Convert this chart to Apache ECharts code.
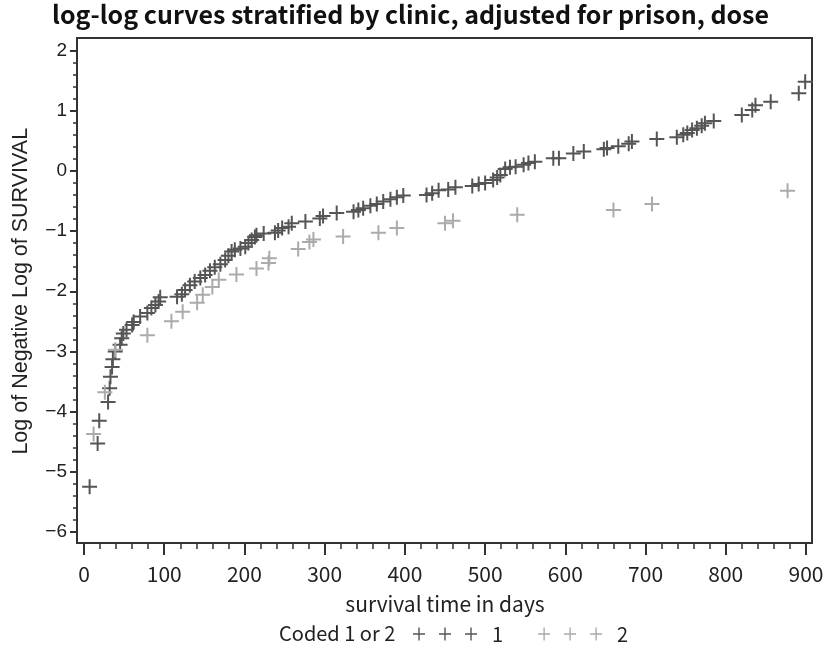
<!DOCTYPE html>
<html>
<head>
<meta charset="utf-8">
<script src="https://cdn.jsdelivr.net/npm/echarts@6/dist/echarts.min.js"></script>
<style>html,body{margin:0;padding:0;background:#fff;}#c{width:837px;height:646px;}</style>
</head>
<body>
<div id="c"></div>
<script>
// Clinic 1 (dark): event times (days) and log(-log(survival))
const clinic1Days = [7,17,19,30,32,33,35,36,39,45,47,49,53,60,62,70,79,84,89,93,95,116,122,126,132,138,145,151,157,163,170,176,180,184,188,195,201,205,209,213,215,224,238,242,247,255,259,276,294,298,315,336,342,348,357,365,373,382,390,398,427,434,442,454,463,484,492,500,510,515,519,525,531,538,548,554,562,585,592,610,623,648,652,666,679,683,714,739,747,752,758,764,770,774,785,820,833,837,856,891,899];
const clinic1LogLog = [-5.25,-4.53,-4.15,-3.84,-3.61,-3.42,-3.26,-3.13,-3.00,-2.89,-2.78,-2.70,-2.64,-2.56,-2.51,-2.42,-2.36,-2.28,-2.23,-2.17,-2.10,-2.09,-2.05,-1.98,-1.90,-1.84,-1.78,-1.73,-1.66,-1.60,-1.55,-1.48,-1.41,-1.34,-1.31,-1.29,-1.26,-1.20,-1.15,-1.10,-1.07,-1.04,-1.03,-0.99,-0.95,-0.93,-0.87,-0.84,-0.79,-0.75,-0.70,-0.68,-0.65,-0.62,-0.58,-0.55,-0.51,-0.47,-0.44,-0.41,-0.40,-0.37,-0.32,-0.31,-0.27,-0.25,-0.22,-0.20,-0.15,-0.11,-0.07,0.03,0.06,0.07,0.10,0.13,0.15,0.21,0.21,0.29,0.32,0.36,0.38,0.41,0.45,0.49,0.53,0.56,0.60,0.63,0.68,0.71,0.75,0.79,0.83,0.93,1.01,1.09,1.15,1.29,1.48];
// Clinic 2 (light)
const clinic2Days = [12,26,39,79,109,123,141,148,160,168,190,215,230,231,267,281,286,323,367,390,450,460,540,660,708,877];
const clinic2LogLog = [-4.37,-3.68,-2.97,-2.73,-2.50,-2.34,-2.19,-2.06,-1.93,-1.81,-1.72,-1.62,-1.53,-1.45,-1.30,-1.18,-1.14,-1.09,-1.03,-0.95,-0.87,-0.83,-0.73,-0.65,-0.55,-0.33];
const seriesNames = ['1', '2'];
const xRange = [0, 900];
const yRange = [-6, 2];

const titleText = 'log-log curves stratified by clinic, adjusted for prison, dose';
const xTitle = 'survival time in days';
const yTitle = 'Log of Negative Log of SURVIVAL';
const legendTitle = 'Coded 1 or 2';

const gothic = '"Noto Sans CJK JP", "Noto Sans", sans-serif';
const arial = '"Liberation Sans", Arial, sans-serif';
const darkCol = '#555555';
const lightCol = '#ababab';
const plusPath = 'path://M6.5,0H8.5V6.5H15V8.5H8.5V15H6.5V8.5H0V6.5H6.5Z';
function crossAt(cx) {
  const a = cx - 0.7, b = cx + 0.7;
  return 'M' + a + ',0H' + b + 'V5.8H' + (cx + 6) + 'V7.2H' + b + 'V13H' + a + 'V7.2H' + (cx - 6) + 'V5.8H' + a + 'Z';
}
const legendIcon = 'path://' + crossAt(6) + crossAt(32) + crossAt(58);

function zip(xs, ys) { return xs.map((x, i) => [x, ys[i]]); }

const chart = echarts.init(document.getElementById('c'), null, {renderer: 'canvas'});
chart.setOption({
  animation: false,
  backgroundColor: '#fff',
  title: [
    {text: titleText, left: 52, top: 2, padding: 0,
     textStyle: {fontFamily: gothic, fontSize: 25, fontWeight: 'bold', color: '#111'}},
    {text: legendTitle, left: 279, top: 623, padding: 0,
     textStyle: {fontFamily: gothic, fontSize: 20, fontWeight: 'normal', color: '#222'}}
  ],
  legend: {
    data: seriesNames,
    left: 413, top: 624, padding: 0,
    itemWidth: 64, itemHeight: 13, itemGap: 35,
    icon: legendIcon,
    textStyle: {fontFamily: gothic, fontSize: 20, color: '#222', padding: [0, 0, 0, 10]}
  },
  grid: [
    {left: 84, right: 31, top: 50.5, bottom: 114, containLabel: false},
    {left: 77, right: 25, top: 38, bottom: 103, show: true, borderColor: '#333', borderWidth: 2, backgroundColor: 'transparent', containLabel: false}
  ],
  xAxis: [
    {type: 'value', gridIndex: 0, position: 'bottom', min: xRange[0], max: xRange[1], interval: 100, offset: 11,
     axisLine: {show: false, onZero: false},
     axisTick: {show: true, length: 12, lineStyle: {color: '#333', width: 2}},
     minorTick: {show: true, splitNumber: 5, length: 6, lineStyle: {color: '#333', width: 1.5}},
     splitLine: {show: false},
     axisLabel: {fontFamily: gothic, fontSize: 21, color: '#222', margin: 21},
     name: xTitle, nameLocation: 'middle', nameGap: 51,
     nameTextStyle: {fontFamily: gothic, fontSize: 21, color: '#222'}},
    {type: 'value', gridIndex: 1, min: 0, max: 1, show: false}
  ],
  yAxis: [
    {type: 'value', gridIndex: 0, position: 'left', min: yRange[0], max: yRange[1], interval: 1, offset: 7,
     axisLine: {show: false, onZero: false},
     axisTick: {show: true, length: 7, lineStyle: {color: '#333', width: 2}},
     minorTick: {show: true, splitNumber: 5, length: 4, lineStyle: {color: '#333', width: 1.5}},
     splitLine: {show: false},
     axisLabel: {fontFamily: arial, fontSize: 19, color: '#222', margin: 10,
       formatter: v => (v < 0 ? '\u2212' + Math.abs(v) : String(v))},
     name: yTitle, nameLocation: 'middle', nameGap: 45, nameRotate: 90,
     nameTextStyle: {fontFamily: arial, fontSize: 21.5, color: '#222'}},
    {type: 'value', gridIndex: 1, min: 0, max: 1, show: false}
  ],
  series: [
    {name: seriesNames[0], type: 'scatter', xAxisIndex: 0, yAxisIndex: 0, clip: false,
     symbol: plusPath, symbolSize: 15, itemStyle: {color: darkCol, opacity: 1},
     data: zip(clinic1Days, clinic1LogLog)},
    {name: seriesNames[1], type: 'scatter', xAxisIndex: 0, yAxisIndex: 0, clip: false,
     symbol: plusPath, symbolSize: 15, itemStyle: {color: lightCol, opacity: 1},
     data: zip(clinic2Days, clinic2LogLog)}
  ]
});
</script>
</body>
</html>
